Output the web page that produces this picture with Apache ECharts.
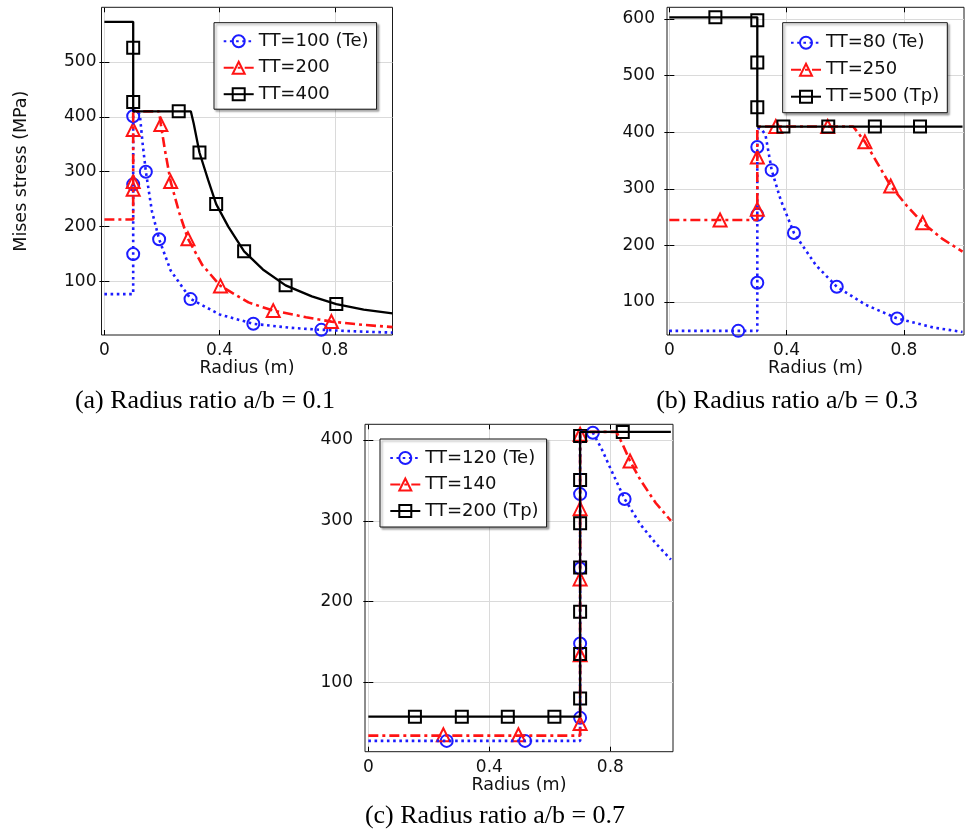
<!DOCTYPE html>
<html>
<head>
<meta charset="utf-8">
<title>Mises stress vs radius</title>
<script src="https://cdn.jsdelivr.net/npm/echarts@6/dist/echarts.min.js"></script>
<style>
  html, body { margin: 0; padding: 0; background: #fff; }
  #chart { width: 966px; height: 832px; }
</style>
</head>
<body>
<div id="chart"></div>
<script>
/* ---------- data: [radius (m), Mises stress (MPa)] ---------- */

// (a) a/b = 0.1
const a100Line = [[0, 77], [0.1, 77], [0.1, 410], [0.115, 410], [0.123, 404], [0.133, 350], [0.144, 300], [0.165, 228], [0.19, 177], [0.23, 120], [0.3, 68], [0.4, 40], [0.517, 23], [0.64, 16], [0.753, 12], [0.88, 9], [1.0, 7]];
const a100Marks = [[0.1, 150], [0.1, 277], [0.1, 401], [0.144, 300], [0.19, 177], [0.299, 68], [0.517, 23], [0.753, 12]];
const a200Line = [[0, 213], [0.1, 213], [0.1, 410], [0.19, 410], [0.196, 386], [0.21, 340], [0.23, 282], [0.26, 225], [0.29, 178], [0.34, 130], [0.403, 92], [0.5, 62], [0.586, 47], [0.7, 35], [0.788, 27], [0.9, 21], [1.0, 17]];
const a200Marks = [[0.1, 268], [0.1, 282], [0.1, 377], [0.196, 386], [0.23, 282], [0.29, 178], [0.403, 92], [0.586, 47], [0.788, 27]];
const a400Line = [[0, 573], [0.1, 573], [0.1, 410], [0.3, 410], [0.31, 388], [0.33, 335], [0.36, 285], [0.388, 241], [0.43, 200], [0.485, 155], [0.55, 122], [0.629, 93], [0.72, 73], [0.805, 59], [0.9, 49], [1.0, 42]];
const a400Marks = [[0.1, 526], [0.1, 427], [0.258, 410], [0.33, 335], [0.388, 241], [0.485, 155], [0.629, 93], [0.805, 59]];

// (b) a/b = 0.3
const b80Line = [[0, 49], [0.3, 49], [0.3, 408], [0.315, 405], [0.328, 395], [0.349, 333], [0.38, 280], [0.425, 222], [0.5, 165], [0.571, 127], [0.67, 95], [0.777, 71], [0.9, 55], [1.0, 47]];
const b80Marks = [[0.235, 49], [0.3, 134], [0.3, 254], [0.3, 374], [0.349, 333], [0.425, 222], [0.571, 127], [0.777, 71]];
const b250Line = [[0, 245], [0.3, 245], [0.3, 410], [0.627, 410], [0.645, 398], [0.667, 383], [0.71, 345], [0.755, 305], [0.81, 270], [0.864, 240], [0.93, 212], [1.0, 189]];
const b250Marks = [[0.173, 245], [0.3, 264], [0.3, 356], [0.363, 410], [0.54, 410], [0.667, 383], [0.755, 305], [0.864, 240]];
const b500Line = [[0, 603], [0.3, 603], [0.3, 410], [1.0, 410]];
const b500Marks = [[0.157, 603], [0.3, 598], [0.3, 523], [0.3, 444], [0.389, 410], [0.542, 410], [0.701, 410], [0.855, 410]];

// (c) a/b = 0.7
const c120Line = [[0, 27.5], [0.7, 27.5], [0.7, 410], [0.72, 410], [0.742, 409], [0.77, 390], [0.8, 365], [0.847, 327], [0.9, 295], [0.95, 272], [1.0, 252]];
const c120Marks = [[0.259, 27.5], [0.518, 27.5], [0.7, 56], [0.7, 148], [0.7, 241], [0.7, 333], [0.742, 409], [0.847, 327]];
const c140Line = [[0, 34], [0.7, 34], [0.7, 410], [0.82, 410], [0.84, 395], [0.865, 374], [0.9, 350], [0.95, 322], [1.0, 300]];
const c140Marks = [[0.248, 35], [0.496, 35], [0.7, 49], [0.7, 134], [0.7, 228], [0.7, 315], [0.7, 407], [0.865, 374]];
const c200Line = [[0, 57.5], [0.7, 57.5], [0.7, 410], [1.0, 410]];
const c200Marks = [[0.154, 57.5], [0.309, 57.5], [0.461, 57.5], [0.615, 57.5], [0.7, 80], [0.7, 135], [0.7, 187.5], [0.7, 242], [0.7, 297], [0.7, 350.5], [0.7, 405], [0.841, 410]];

// tick labels
const xTickVals = [0, 0.4, 0.8];
const aYTickVals = [100, 200, 300, 400, 500];
const bYTickVals = [100, 200, 300, 400, 500, 600];
const cYTickVals = [100, 200, 300, 400];

const captions = ['(a) Radius ratio a/b = 0.1', '(b) Radius ratio a/b = 0.3', '(c) Radius ratio a/b = 0.7'];

/* ---------- styles ---------- */
const FONT = 'DejaVu Sans';
const looks = {
  te:  { color: '#1c1cff', symbol: 'circle',   size: 12, width: 2.6, dash: [2.6, 3.6] },
  mid: { color: '#ff1414', symbol: 'triangle', size: 13, width: 2.6, dash: [10, 4, 3, 4] },
  tp:  { color: '#000000', symbol: 'rect',     size: 12, width: 2.3, dash: 'solid' }
};

const panels = [
  {
    box: { left: 101.5, top: 7.3, width: 291, height: 327.7 },
    xRange: [-0.01, 1.0], yRange: [2.6, 599.5], ySplit: 6, yTicks: aYTickVals,
    yMargin: 5, xMargin: 7, xNameGap: 21, yName: 'Mises stress (MPa)',
    legend: { left: 214, top: 22.7, padding: [8.5, 8, 5, 8.7], gap: 6.5 },
    curves: [
      { name: 'TT=100 (Te)', line: a100Line, marks: a100Marks, look: 'te' },
      { name: 'TT=200', line: a200Line, marks: a200Marks, look: 'mid' },
      { name: 'TT=400', line: a400Line, marks: a400Marks, look: 'tp' }
    ]
  },
  {
    box: { left: 667, top: 7.3, width: 297, height: 327.7 },
    xRange: [-0.008, 1.005], yRange: [41.7, 620.7], ySplit: 6, yTicks: bYTickVals,
    yMargin: 12, xMargin: 7, xNameGap: 21, yName: '',
    legend: { left: 782.7, top: 22.7, padding: [10, 8, 6, 7.3], gap: 7 },
    curves: [
      { name: 'TT=80 (Te)', line: b80Line, marks: b80Marks, look: 'te' },
      { name: 'TT=250', line: b250Line, marks: b250Marks, look: 'mid' },
      { name: 'TT=500 (Tp)', line: b500Line, marks: b500Marks, look: 'tp' }
    ]
  },
  {
    box: { left: 365, top: 424.3, width: 308, height: 327.4 },
    xRange: [-0.011, 1.007], yRange: [14.1, 419.4], ySplit: 4, yTicks: cYTickVals,
    yMargin: 12, xMargin: 7, xNameGap: 22, yName: '',
    legend: { left: 380, top: 439, padding: [9, 8, 6, 9.3], gap: 6.5 },
    curves: [
      { name: 'TT=120 (Te)', line: c120Line, marks: c120Marks, look: 'te' },
      { name: 'TT=140', line: c140Line, marks: c140Marks, look: 'mid' },
      { name: 'TT=200 (Tp)', line: c200Line, marks: c200Marks, look: 'tp' }
    ]
  }
];

const captionPos = [[205, 401], [787, 401], [495, 816]];

/* ---------- build option ---------- */
const grid = [], xAxis = [], yAxis = [], series = [], legend = [];
const tickStyle = { inside: true, length: 5, lineStyle: { color: '#000', width: 1 } };
const labelText = { fontSize: 17, fontFamily: FONT, color: '#111' };

panels.forEach((p, i) => {
  grid.push({
    ...p.box, show: true, backgroundColor: '#fff',
    borderColor: '#1a1a1a', borderWidth: 1,
    containLabel: false, outerBoundsMode: 'none'
  });

  const xBase = {
    gridIndex: i, type: 'value', min: p.xRange[0], max: p.xRange[1],
    splitNumber: 10, minInterval: 0.1, maxInterval: 0.1,
    axisLine: { show: false }
  };
  const yBase = {
    gridIndex: i, type: 'value', min: p.yRange[0], max: p.yRange[1],
    splitNumber: p.ySplit, minInterval: 100, maxInterval: 100,
    axisLine: { show: false }
  };

  xAxis.push({
    ...xBase, position: 'bottom',
    name: 'Radius (m)', nameLocation: 'middle', nameGap: p.xNameGap,
    nameTextStyle: { fontSize: 17.5, fontFamily: FONT, color: '#111' },
    axisTick: { ...tickStyle, customValues: xTickVals },
    axisLabel: { ...labelText, customValues: xTickVals, margin: p.xMargin },
    splitLine: { show: true, lineStyle: { color: '#dadada', width: 1 } }
  });
  xAxis.push({
    ...xBase, position: 'top',
    axisTick: { ...tickStyle, customValues: xTickVals },
    axisLabel: { show: false }, splitLine: { show: false }
  });

  yAxis.push({
    ...yBase, position: 'left',
    name: p.yName, nameLocation: 'middle', nameGap: 71,
    nameTextStyle: { fontSize: 17.5, fontFamily: FONT, color: '#111' },
    axisTick: { ...tickStyle, customValues: p.yTicks },
    axisLabel: { ...labelText, customValues: p.yTicks, margin: p.yMargin },
    splitLine: { show: true, lineStyle: { color: '#dadada', width: 1 } }
  });
  yAxis.push({
    ...yBase, position: 'right',
    axisTick: { ...tickStyle, customValues: p.yTicks },
    axisLabel: { show: false }, splitLine: { show: false }
  });

  legend.push({
    orient: 'vertical', left: p.legend.left, top: p.legend.top,
    padding: p.legend.padding, itemGap: p.legend.gap, itemWidth: 30, itemHeight: 15,
    backgroundColor: '#fff', borderColor: '#111', borderWidth: 1,
    shadowColor: 'rgba(0,0,0,0.35)', shadowBlur: 2, shadowOffsetX: 2, shadowOffsetY: 2,
    selectedMode: false,
    textStyle: { fontSize: 18, fontFamily: FONT, color: '#111', lineHeight: 20 },
    data: p.curves.map(c => c.name)
  });

  p.curves.forEach(c => {
    const lk = looks[c.look];
    const markStyle = { color: 'rgba(0,0,0,0)', borderColor: lk.color, borderWidth: 2, opacity: 1 };
    series.push({
      type: 'line', name: c.name, xAxisIndex: 2 * i, yAxisIndex: 2 * i,
      data: c.line, showSymbol: false, symbol: lk.symbol, symbolSize: lk.size,
      itemStyle: markStyle,
      lineStyle: { color: lk.color, width: lk.width, type: lk.dash, cap: 'butt' },
      silent: true
    });
    series.push({
      type: 'scatter', name: c.name, xAxisIndex: 2 * i, yAxisIndex: 2 * i,
      data: c.marks, symbol: lk.symbol, symbolSize: lk.size,
      itemStyle: markStyle, silent: true
    });
  });
});

const chart = echarts.init(document.getElementById('chart'));
chart.setOption({
  animation: false,
  backgroundColor: '#fff',
  grid, xAxis, yAxis, legend, series,
  graphic: captions.map((t, i) => ({
    type: 'text', x: captionPos[i][0], y: captionPos[i][1],
    style: {
      text: t, fontSize: 26, fontFamily: 'Liberation Serif', fill: '#000',
      align: 'center', verticalAlign: 'middle'
    }
  }))
});
</script>
</body>
</html>
